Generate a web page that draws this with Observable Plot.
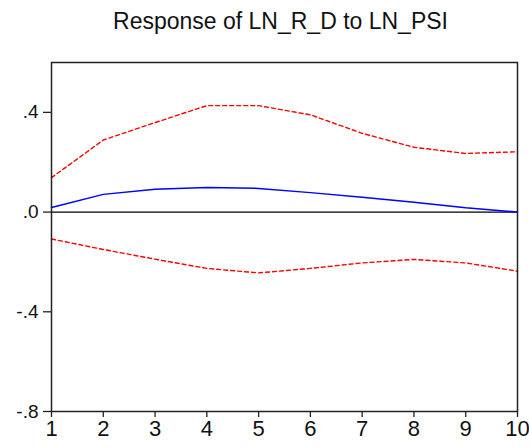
<!DOCTYPE html>
<html>
<head>
<meta charset="utf-8">
<script src="https://cdn.jsdelivr.net/npm/d3@7"></script>
<script src="https://cdn.jsdelivr.net/npm/@observablehq/plot@0.6"></script>
<style>
  html, body { margin: 0; padding: 0; background: #fff; }
  body { width: 529px; height: 448px; overflow: hidden; font-family: "Liberation Sans", Arial, sans-serif; }
  #title { height: 40px; line-height: 40px; text-align: center; font-size: 23px; color: #111; padding-left: 32px; box-sizing: border-box; padding-top: 1px; }
</style>
</head>
<body>
<div id="title">Response of LN_R_D to LN_PSI</div>
<div id="chart"></div>
<script>
const periods = [1, 2, 3, 4, 5, 6, 7, 8, 9, 10];
const response = [0.018, 0.071, 0.092, 0.099, 0.095, 0.078, 0.059, 0.039, 0.017, 0.000];
const upperBand = [0.138, 0.289, 0.359, 0.427, 0.427, 0.390, 0.316, 0.260, 0.235, 0.242];
const lowerBand = [-0.108, -0.150, -0.189, -0.226, -0.244, -0.226, -0.204, -0.190, -0.204, -0.237];
const yTicks = [-0.8, -0.4, 0, 0.4];
const xTicks = periods;

const rows = periods.map((p, i) => ({p, r: response[i], u: upperBand[i], l: lowerBand[i]}));
const fmt = v => (v < 0 ? "-" : "") + Math.abs(v).toFixed(1).replace(/^0\./, ".");

const chart = Plot.plot({
  width: 529,
  height: 408,
  marginTop: 22,
  marginBottom: 37,
  marginLeft: 51,
  marginRight: 12,
  style: {fontFamily: "Liberation Sans, Arial, sans-serif", color: "#111", background: "#fff"},
  x: {domain: [1, 10]},
  y: {domain: [-0.8, 0.6]},
  marks: [
    Plot.ruleY([0], {stroke: "#000", strokeWidth: 1.3}),
    Plot.line(rows, {x: "p", y: "u", stroke: "#ff0000", strokeWidth: 1.4, strokeDasharray: "4,3"}),
    Plot.line(rows, {x: "p", y: "l", stroke: "#ff0000", strokeWidth: 1.4, strokeDasharray: "4,3"}),
    Plot.line(rows, {x: "p", y: "r", stroke: "#0000ff", strokeWidth: 1.5}),
    Plot.frame({stroke: "#222", strokeWidth: 1.5}),
    Plot.axisY({ticks: yTicks, tickFormat: fmt, tickSize: 8, tickPadding: 5, fontSize: 19, stroke: "#222", strokeWidth: 1.3, label: null}),
    Plot.axisX({ticks: xTicks, tickFormat: d3.format("d"), tickSize: 6, tickPadding: 3, fontSize: 22, stroke: "#222", strokeWidth: 1.3, label: null})
  ]
});
document.getElementById("chart").appendChild(chart);
</script>
</body>
</html>
